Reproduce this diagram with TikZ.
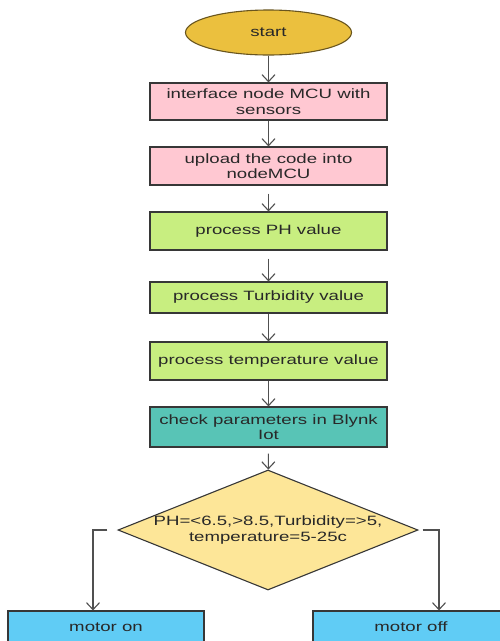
\documentclass[tikz,border=0pt]{standalone}
\usepackage{fontspec}
\newfontfamily\flowfont[FakeStretch=1.38]{Liberation Sans}
\usetikzlibrary{shapes.geometric,arrows.meta}
\definecolor{startfill}{RGB}{235,192,62}
\definecolor{startline}{RGB}{105,85,30}
\definecolor{pinkfill}{RGB}{255,200,210}
\definecolor{greenfill}{RGB}{200,238,128}
\definecolor{tealfill}{RGB}{88,196,182}
\definecolor{decfill}{RGB}{253,230,152}
\definecolor{bluefill}{RGB}{96,204,245}
\definecolor{boxline}{RGB}{55,55,55}
\definecolor{arrowline}{RGB}{80,80,80}
\definecolor{txt}{RGB}{40,40,40}
\begin{document}
\begin{tikzpicture}[x=1pt,y=-1pt,
  font=\flowfont\fontsize{13.5}{15.5}\selectfont,
  box/.style={draw=boxline,line width=1.1pt,minimum width=237pt,align=center,inner sep=0pt,text=txt},
  outbox/.style={draw=boxline,line width=1.1pt,fill=bluefill,minimum width=196pt,minimum height=32pt,inner sep=0pt,text=txt},
  flow/.style={draw=arrowline,line width=1.1pt,-{Straight Barb[length=7pt,width=13pt]}}]
\pgfmathsetmacro{\cx}{268.5}
\clip(0,0)rectangle(500,641);
\fill[white](0,0)rectangle(500,641);
\node[ellipse,draw=startline,line width=1.1pt,fill=startfill,minimum width=166pt,minimum height=45pt,inner sep=0pt,text=txt](start)at(\cx,32.5){start};
\node[box,fill=pinkfill,minimum height=37pt](iface)at(\cx,101.5){interface node MCU with\\sensors};
\node[box,fill=pinkfill,minimum height=38pt](upload)at(\cx,166){upload the code into\\nodeMCU};
\node[box,fill=greenfill,minimum height=38pt](ph)at(\cx,231){process PH value};
\node[box,fill=greenfill,minimum height=31pt](turb)at(\cx,297.5){process Turbidity value};
\node[box,fill=greenfill,minimum height=38pt](temp)at(\cx,361){process temperature value};
\node[box,fill=tealfill,minimum height=40pt](blynk)at(\cx,427){check parameters in Blynk\\Iot};
\node[diamond,draw=boxline,line width=1.1pt,fill=decfill,aspect=2.5,inner sep=0pt,align=center,text=txt,minimum width=300pt,minimum height=120pt](check)at(268,530){PH=<6.5,>8.5,Turbidity=>5,\\temperature=5-25c};
\node[outbox](on)at(106,627){motor on};
\node[outbox](off)at(411,627){motor off};
\draw[flow](start)--(iface);
\draw[flow](iface)--(upload);
\draw[flow,shorten <=8pt](upload)--(ph);
\draw[flow,shorten <=8pt](ph)--(turb);
\draw[flow](turb)--(temp);
\draw[flow](temp)--(blynk);
\draw[flow,shorten <=6pt](blynk)--(check);
\draw[flow]([xshift=-10pt]check.west)-|([xshift=-13pt]on.north);
\draw[flow]([xshift=4pt]check.east)-|([xshift=28pt]off.north);
\end{tikzpicture}
\end{document}
